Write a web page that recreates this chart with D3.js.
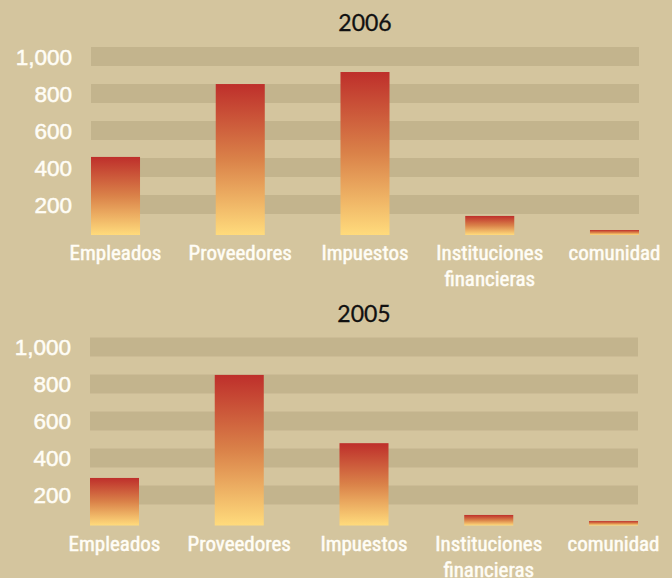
<!DOCTYPE html>
<html>
<head>
<meta charset="utf-8">
<script src="https://cdn.jsdelivr.net/npm/d3@7"></script>
<style>
  body { margin: 0; background: #d4c59e; }
  svg { display: block; }
</style>
</head>
<body>
<script>
const width = 672;
const height = 578;

const categories = ['Empleados', 'Proveedores', 'Impuestos', 'Instituciones\nfinancieras', 'comunidad'];
const years = ['2006', '2005'];
const values2006 = [422, 816, 881, 103, 27];
const values2005 = [257, 814, 445, 57, 24];
const ticks = [200, 400, 600, 800, 1000];

const seriesByYear = { '2006': values2006, '2005': values2005 };

const svg = d3.select('body').append('svg')
  .attr('width', width)
  .attr('height', height);

const grad = svg.append('defs').append('linearGradient')
  .attr('id', 'barGrad')
  .attr('x1', 0).attr('y1', 0)
  .attr('x2', 0).attr('y2', 1);
grad.append('stop').attr('offset', '0%').attr('stop-color', '#be2f2b');
grad.append('stop').attr('offset', '50%').attr('stop-color', '#da8249');
grad.append('stop').attr('offset', '100%').attr('stop-color', '#ffdb7c');

const x = d3.scaleBand()
  .domain(categories)
  .range([91, 639])
  .paddingInner(0.607)
  .paddingOuter(0);

const y = d3.scaleLinear()
  .domain([0, 1000])
  .range([235, 50]);

const fmt = d3.format(',');

years.forEach((yr, i) => {
  const g = svg.append('g')
    .attr('transform', `translate(${i === 0 ? 0 : -1},${i * 290.5})`);

  g.append('text')
    .attr('x', 365)
    .attr('y', 31)
    .attr('text-anchor', 'middle')
    .attr('font-family', 'Lato, "Liberation Sans", sans-serif')
    .attr('font-size', 23)
    .attr('fill', '#111')
    .attr('stroke', '#111')
    .attr('stroke-width', 0.3)
    .text(yr);

  g.append('g')
    .selectAll('rect')
    .data(ticks)
    .join('rect')
    .attr('x', x.range()[0])
    .attr('width', x.range()[1] - x.range()[0])
    .attr('y', d => y(d) - 3)
    .attr('height', 19)
    .attr('fill', '#c3b48d');

  g.append('g')
    .selectAll('text')
    .data(ticks)
    .join('text')
    .attr('x', 72)
    .attr('y', d => y(d) + 14.5)
    .attr('text-anchor', 'end')
    .attr('font-family', '"Liberation Sans", sans-serif')
    .attr('font-size', 22.5)
    .attr('fill', '#fffdf6')
    .attr('stroke', '#fffdf6')
    .attr('stroke-width', 0.5)
    .text(d => fmt(d));

  const vals = seriesByYear[yr];
  g.append('g')
    .selectAll('rect')
    .data(categories)
    .join('rect')
    .attr('x', d => x(d))
    .attr('width', x.bandwidth())
    .attr('y', (d, j) => y(vals[j]))
    .attr('height', (d, j) => y(0) - y(vals[j]))
    .attr('fill', 'url(#barGrad)');

  const labels = g.append('g')
    .selectAll('text')
    .data(categories)
    .join('text')
    .attr('x', d => x(d) + x.bandwidth() / 2)
    .attr('y', 260)
    .attr('text-anchor', 'middle')
    .attr('font-family', '"Liberation Sans Narrow", "Roboto Condensed", sans-serif')
    .attr('font-size', 21)
    .attr('fill', '#fffdf6')
    .attr('stroke', '#fffdf6')
    .attr('stroke-width', 0.5);

  labels.selectAll('tspan')
    .data(d => d.split('\n'))
    .join('tspan')
    .attr('x', function () { return d3.select(this.parentNode).attr('x'); })
    .attr('dy', (d, k) => k === 0 ? 0 : 26)
    .text(d => d);
});
</script>
</body>
</html>
